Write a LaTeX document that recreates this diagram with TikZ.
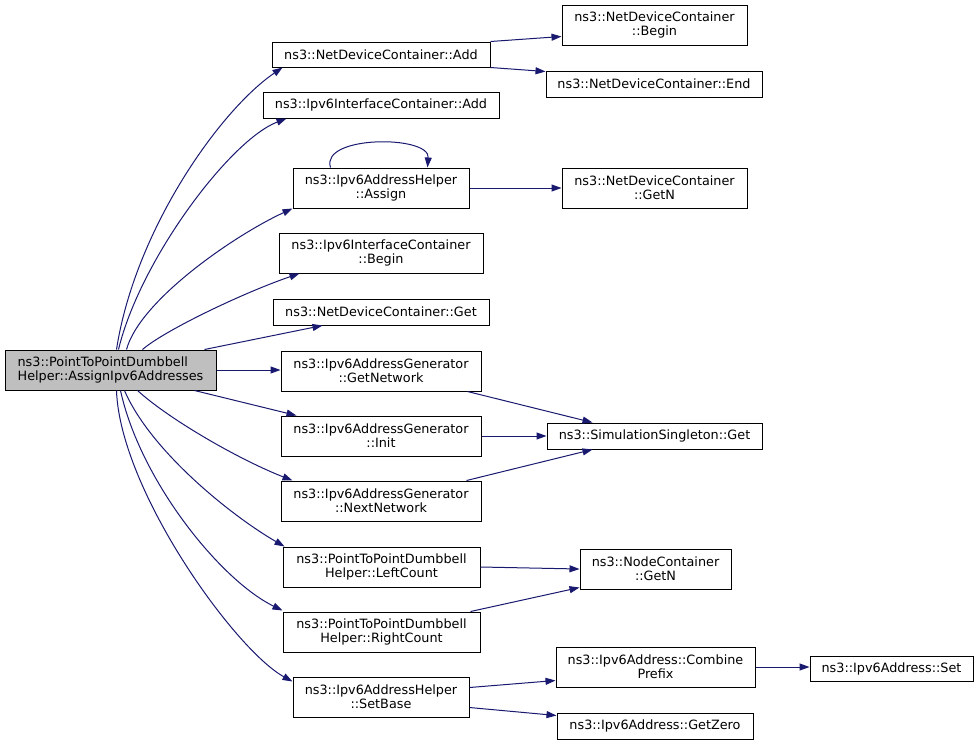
\documentclass[tikz,border=0pt]{standalone}
\usepackage{fontspec}
\setmainfont{DejaVu Sans}
\usetikzlibrary{arrows.meta}
\definecolor{edgeblue}{HTML}{191970}
\definecolor{rootgray}{HTML}{BFBFBF}
\begin{document}
\begin{tikzpicture}[x=1pt,y=-1pt,
  box/.style={draw=black, line width=1pt, inner sep=0pt, align=center, fill=white,
    font=\fontsize{12.8}{14}\selectfont},
  call/.style={draw=edgeblue, line width=1pt, -{Triangle[length=10pt,width=7pt]}}]
\useasboundingbox (0,0) rectangle (979,745);

\node[box, fill=rootgray, align=left, minimum width=211pt, minimum height=40pt] (main) at (110.5,370) {ns3::PointToPointDumbbell\\Helper::AssignIpv6Addresses};

\node[box, minimum width=218pt, minimum height=25pt] (add) at (381,54.5) {ns3::NetDeviceContainer::Add};
\node[box, minimum width=236pt, minimum height=26pt] (icadd) at (381,105) {ns3::Ipv6InterfaceContainer::Add};
\node[box, minimum width=176pt, minimum height=40pt] (assign) at (381,188) {ns3::Ipv6AddressHelper\\::Assign};
\node[box, minimum width=204pt, minimum height=40pt] (icbegin) at (381,253) {ns3::Ipv6InterfaceContainer\\::Begin};
\node[box, minimum width=216pt, minimum height=26pt] (ndget) at (381,312) {ns3::NetDeviceContainer::Get};
\node[box, minimum width=200pt, minimum height=40pt] (getnet) at (381,371) {ns3::Ipv6AddressGenerator\\::GetNetwork};
\node[box, minimum width=200pt, minimum height=40pt] (init) at (381,436) {ns3::Ipv6AddressGenerator\\::Init};
\node[box, minimum width=200pt, minimum height=40pt] (nextnet) at (381,501) {ns3::Ipv6AddressGenerator\\::NextNetwork};
\node[box, minimum width=197pt, minimum height=40pt] (left) at (381.5,567) {ns3::PointToPointDumbbell\\Helper::LeftCount};
\node[box, minimum width=197pt, minimum height=40pt] (right) at (381.5,632) {ns3::PointToPointDumbbell\\Helper::RightCount};
\node[box, minimum width=176pt, minimum height=40pt] (setbase) at (381,697) {ns3::Ipv6AddressHelper\\::SetBase};

\node[box, minimum width=185pt, minimum height=40pt] (begin) at (654.5,25) {ns3::NetDeviceContainer\\::Begin};
\node[box, minimum width=216pt, minimum height=26pt] (end) at (654,84) {ns3::NetDeviceContainer::End};
\node[box, minimum width=185pt, minimum height=40pt] (getn) at (654.5,188) {ns3::NetDeviceContainer\\::GetN};
\node[box, minimum width=215pt, minimum height=26pt] (ssget) at (654.5,436) {ns3::SimulationSingleton::Get};
\node[box, minimum width=151pt, minimum height=40pt] (ncgetn) at (655.5,569) {ns3::NodeContainer\\::GetN};
\node[box, minimum width=199pt, minimum height=40pt] (combine) at (655.5,667) {ns3::Ipv6Address::Combine\\Prefix};
\node[box, minimum width=196pt, minimum height=26pt] (getzero) at (655,726) {ns3::Ipv6Address::GetZero};
\node[box, minimum width=163pt, minimum height=25pt] (set) at (891.5,668.5) {ns3::Ipv6Address::Set};

% fan from root
\draw[call] ([xshift=112pt]main.north west) .. controls (135,230) and (220,110) .. ([xshift=11pt]add.south west);
\draw[call] ([xshift=114pt]main.north west) .. controls (140,260) and (230,140) .. ([xshift=24pt]icadd.south west);
\draw[call] ([xshift=122pt]main.north west) .. controls (140,300) and (235,235) .. (assign.south west);
\draw[call] ([xshift=138pt]main.north west) .. controls (165,330) and (245,292) .. ([xshift=21pt]icbegin.south west);
\draw[call] ([xshift=200pt]main.north west) -- ([xshift=50pt]ndget.south west);
\draw[call] (main.east) -- (main.east -| getnet.west);
\draw[call] ([xshift=190pt]main.south west) -- ([xshift=16pt]init.north west);
\draw[call] ([xshift=133pt]main.south west) .. controls (170,420) and (240,460) .. ([xshift=12pt]nextnet.north west);
\draw[call] ([xshift=120pt]main.south west) .. controls (150,450) and (230,515) .. ([xshift=2pt]left.north west);
\draw[call] ([xshift=116pt]main.south west) .. controls (140,480) and (220,580) .. ([yshift=1pt]right.north west);
\draw[call] ([xshift=112pt]main.south west) .. controls (120,490) and (235,650) .. ([yshift=-5pt]setbase.north west);

% second level
\draw[call] (add.north east) -- ([yshift=9pt]begin.south west);
\draw[call] (add.south east) -- ([yshift=-1pt]end.north west);
\draw[call] (assign.east) -- (assign.east -| getn.west);
\draw[call] ([xshift=38pt]assign.north west) .. controls (320,135) and (430,135) .. ([xshift=135pt]assign.north west);
\draw[call] ([xshift=-14pt]getnet.south east) -- ([xshift=46pt]ssget.north west);
\draw[call] (init.east) -- (init.east -| ssget.west);
\draw[call] ([xshift=-15pt]nextnet.north east) -- ([xshift=46pt]ssget.south west);
\draw[call] (left.east) -- (ncgetn.west);
\draw[call] ([xshift=-10pt]right.north east) -- ([yshift=2pt]ncgetn.south west);
\draw[call] ([yshift=-11pt]setbase.north east) -- ([yshift=7pt]combine.south west);
\draw[call] ([yshift=10pt]setbase.south east) -- ([yshift=-3pt]getzero.north west);
\draw[call] (combine.east) -- (combine.east -| set.west);
\end{tikzpicture}
\end{document}
